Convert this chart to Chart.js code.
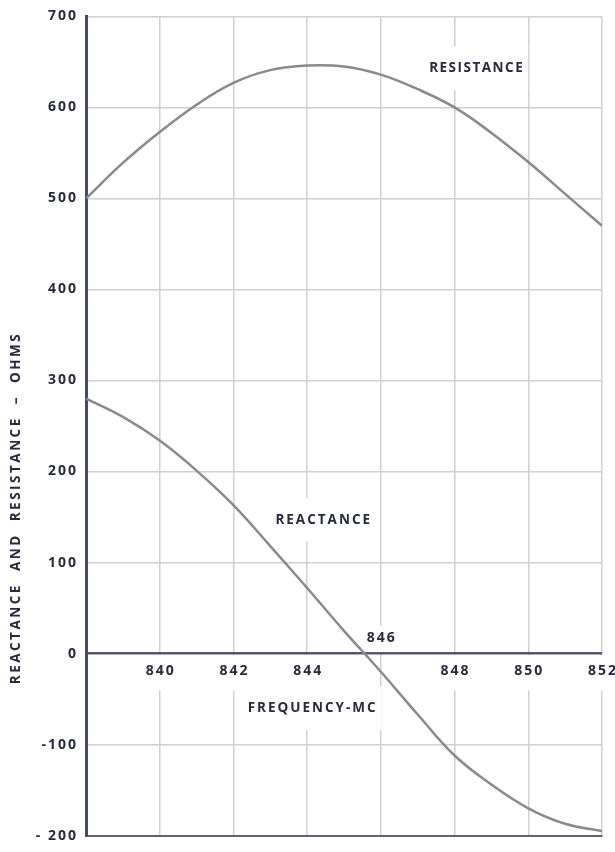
<!DOCTYPE html>
<html>
<head>
<meta charset="utf-8">
<script src="https://cdn.jsdelivr.net/npm/chart.js@4"></script>
<style>
  body { margin: 0; background: #fff; }
  #wrap { width: 615px; height: 852px; }
</style>
</head>
<body>
<div id="wrap"><canvas id="grafico" width="615" height="852"></canvas></div>
<script>
// datos
const frecuencia = [838, 839, 840, 841, 842, 843, 844, 845, 846, 847, 848, 849, 850, 851, 852];
const resistencia = [500, 539, 573, 603, 627, 641, 646, 645, 636, 620, 600, 572, 540, 505, 470];
const reactancia = [280, 260, 234, 201, 163, 118, 72, 25, -20, -67, -112, -144, -170, -187, -195];
const ticksX = [840, 842, 844, 846, 848, 850, 852];
const ticksY = [-200, -100, 0, 100, 200, 300, 400, 500, 600, 700];

const tinta = '#272a3c';
const gris = '#8a8a8c';
const rejilla = '#d0d0d0';

// Etiquetas de texto sobre el grafico (en coordenadas de datos)
const rotulos = [
    { texto: 'RESISTANCE', x: 848.6, y: 643, sp: 1.5 },
    { texto: 'REACTANCE', x: 844.45, y: 147, sp: 2 },
    { texto: 'FREQUENCY-MC', x: 844.15, y: -60, sp: 2 }
];

function puntos(valores) {
    return frecuencia.map((f, i) => ({ x: f, y: valores[i] }));
}

// Plugin: rotulos con fondo blanco que corta la rejilla
const textosPlugin = {
    id: 'textos',
    beforeDraw(chart) {
        chart.ctx.letterSpacing = '2px';
    },
    beforeDatasetsDraw(chart) {
        const ctx = chart.ctx;
        const sx = chart.scales.x;
        const sy = chart.scales.y;
        const y0 = sy.getPixelForValue(0);
        ctx.save();
        ctx.font = '700 14px "Open Sans"';
        ctx.textAlign = 'center';
        ctx.textBaseline = 'middle';

        // etiquetas del eje X
        ticksX.forEach(v => {
            const px = sx.getPixelForValue(v);
            ctx.letterSpacing = '2px';
            const w = ctx.measureText(String(v)).width;
            let cy, top, bot;
            if (v === 846) {
                cy = y0 - 16; top = y0 - 28; bot = y0 - 1.5;
            } else {
                cy = y0 + 17; top = y0 + 1.5; bot = y0 + 37;
            }
            ctx.fillStyle = '#fff';
            ctx.fillRect(px - w / 2 - 3, top, w + 6, bot - top);
            ctx.fillStyle = tinta;
            ctx.fillText(String(v), px + 1, cy);
        });

        // rotulos de las curvas y del eje
        ctx.font = '700 13.5px "Open Sans"';
        rotulos.forEach(r => {
            ctx.letterSpacing = r.sp + 'px';
            const px = sx.getPixelForValue(r.x);
            const py = sy.getPixelForValue(r.y);
            const w = ctx.measureText(r.texto).width;
            ctx.fillStyle = '#fff';
            ctx.fillRect(px - w / 2 - 4, py - 22, w + 8, 44);
            ctx.fillStyle = tinta;
            ctx.fillText(r.texto, px, py);
        });

        // titulo vertical
        ctx.translate(16, 508);
        ctx.rotate(-Math.PI / 2);
        ctx.letterSpacing = '2.5px';
        ctx.fillStyle = tinta;
        ctx.fillText('REACTANCE  AND  RESISTANCE  –  OHMS', 0, 0);
        ctx.restore();
    }
};

const ctx = document.getElementById('grafico').getContext('2d');

const config = {
    type: 'line',
    data: {
        datasets: [
            {
                label: 'Resistance',
                data: puntos(resistencia),
                borderColor: gris,
                borderWidth: 2.5,
                pointRadius: 0,
                tension: 0.4
            },
            {
                label: 'Reactance',
                data: puntos(reactancia),
                borderColor: gris,
                borderWidth: 2.5,
                pointRadius: 0,
                tension: 0.4
            }
        ]
    },
    options: {
        responsive: false,
        animation: false,
        layout: {
            padding: { left: 0, top: 16, right: 13, bottom: 0 }
        },
        plugins: {
            legend: { display: false },
            tooltip: { enabled: false }
        },
        scales: {
            x: {
                type: 'linear',
                min: 838,
                max: 852,
                afterFit: function (scale) { scale.height = 8; },
                afterBuildTicks: function (scale) {
                    scale.ticks = [838].concat(ticksX).map(v => ({ value: v }));
                },
                ticks: { display: false },
                grid: {
                    color: rejilla,
                    lineWidth: 1.5,
                    drawTicks: false
                },
                border: { color: '#5f6276', width: 2 }
            },
            y: {
                min: -200,
                max: 700,
                afterFit: function (scale) { scale.width = 86; },
                afterBuildTicks: function (scale) {
                    scale.ticks = ticksY.map(v => ({ value: v }));
                },
                ticks: {
                    color: tinta,
                    padding: 8,
                    font: { family: 'Open Sans', size: 14, weight: '700' },
                    callback: function (value) {
                        return value === -200 ? '- 200' : String(value);
                    }
                },
                grid: {
                    drawTicks: false,
                    color: function (c) {
                        if (c.tick && c.tick.value === 0) return '#55586c';
                        return rejilla;
                    },
                    lineWidth: function (c) {
                        if (c.tick && c.tick.value === 0) return 2.5;
                        return 1.5;
                    }
                },
                border: { color: '#474a62', width: 3 }
            }
        }
    },
    plugins: [textosPlugin]
};

const grafico = new Chart(ctx, config);
</script>
</body>
</html>
